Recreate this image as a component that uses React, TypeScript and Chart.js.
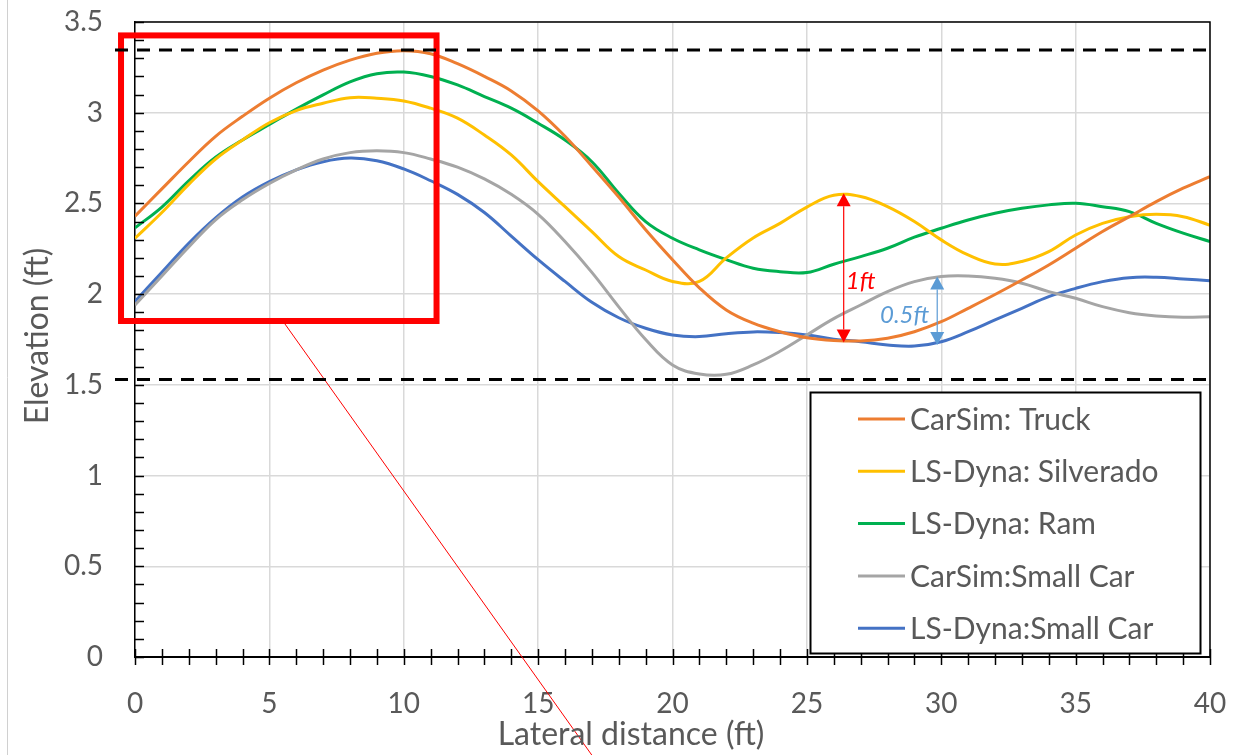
import React, { useEffect, useRef } from "react";
import { Chart, registerables } from "chart.js";

Chart.register(...registerables);

// ---- data ----
const lateralDistance = [
  0, 1, 2, 3, 4, 5, 6, 7, 8, 9, 10, 11, 12, 13, 14, 15, 16, 17, 18, 19, 20,
  21, 22, 23, 24, 25, 26, 27, 28, 29, 30, 31, 32, 33, 34, 35, 36, 37, 38, 39, 40,
];

const carsimTruck = [
  2.43, 2.58, 2.73, 2.87, 2.98, 3.08, 3.165, 3.235, 3.29, 3.328, 3.342, 3.325, 3.27, 3.2, 3.12, 3.01, 2.87, 2.705, 2.535, 2.355, 2.19,
  2.035, 1.913, 1.84, 1.793, 1.76, 1.745, 1.742, 1.757, 1.793, 1.848, 1.922, 1.998, 2.078, 2.161, 2.253, 2.345, 2.427, 2.51, 2.584, 2.648,
];
const lsdynaSilverado = [
  2.308, 2.45, 2.605, 2.745, 2.85, 2.945, 3.012, 3.052, 3.083, 3.08, 3.065, 3.025, 2.97, 2.877, 2.767, 2.62, 2.482, 2.345, 2.207, 2.133, 2.07,
  2.07, 2.2, 2.31, 2.39, 2.48, 2.545, 2.538, 2.482, 2.4, 2.299, 2.216, 2.166, 2.18, 2.234, 2.326, 2.39, 2.427, 2.44, 2.427, 2.38,
];
const lsdynaRam = [
  2.365, 2.48, 2.625, 2.755, 2.85, 2.935, 3.02, 3.098, 3.17, 3.215, 3.224, 3.2, 3.153, 3.089, 3.025, 2.942, 2.85, 2.73, 2.556, 2.4, 2.308,
  2.244, 2.19, 2.143, 2.124, 2.119, 2.165, 2.207, 2.253, 2.314, 2.363, 2.409, 2.446, 2.473, 2.492, 2.501, 2.482, 2.455, 2.39, 2.336, 2.29,
];
const carsimSmallCar = [
  1.94, 2.1, 2.26, 2.41, 2.52, 2.61, 2.685, 2.745, 2.78, 2.79, 2.78, 2.745, 2.7, 2.635, 2.55, 2.44, 2.29, 2.12, 1.93, 1.75, 1.61,
  1.56, 1.558, 1.61, 1.685, 1.775, 1.865, 1.94, 2.014, 2.069, 2.097, 2.1, 2.087, 2.06, 2.014, 1.977, 1.931, 1.898, 1.88, 1.873, 1.876,
];
const lsdynaSmallCar = [
  1.96, 2.12, 2.28, 2.42, 2.535, 2.62, 2.685, 2.73, 2.75, 2.735, 2.69, 2.625, 2.55, 2.45, 2.32, 2.19, 2.07, 1.955, 1.87, 1.812, 1.775,
  1.766, 1.782, 1.792, 1.788, 1.775, 1.752, 1.738, 1.72, 1.714, 1.738, 1.793, 1.858, 1.922, 1.986, 2.032, 2.069, 2.091, 2.093, 2.084, 2.074,
];

const seriesLabels = [
  "CarSim: Truck",
  "LS-Dyna: Silverado",
  "LS-Dyna: Ram",
  "CarSim:Small Car",
  "LS-Dyna:Small Car",
];
const seriesValues = [carsimTruck, lsdynaSilverado, lsdynaRam, carsimSmallCar, lsdynaSmallCar];
const seriesColors = ["#ED7D31", "#FFC000", "#00B050", "#A5A5A5", "#4472C4"];

const referenceLevels = [3.345, 1.53];
const xTickLabels = ["0", "5", "10", "15", "20", "25", "30", "35", "40"];
const yTickLabels = ["0", "0.5", "1", "1.5", "2", "2.5", "3", "3.5"];

// annotations (data units)
const gapArrows = [
  { x: 26.37, from: 1.733, to: 2.556, label: "1ft", color: "#FF0000", labelX: 26.45, labelY: 2.07, align: "left" },
  { x: 29.85, from: 1.72, to: 2.097, label: "0.5ft", color: "#5B9BD5", labelX: 29.55, labelY: 1.885, align: "right" },
];
const zoomBox = { x0: -0.52, x1: 11.22, y0: 1.852, y1: 3.426 };
const zoomLeader = { x: 5.5, y: 1.852, xAtZero: 14.4 };

const FONT = "Lato, 'Open Sans', sans-serif";
const TEXT = "#595959";

function drawArrow(ctx: CanvasRenderingContext2D, px: number, yTop: number, yBot: number, color: string) {
  const hw = 7;
  const hh = 13;
  ctx.save();
  ctx.strokeStyle = color;
  ctx.fillStyle = color;
  ctx.lineWidth = 1.2;
  ctx.beginPath();
  ctx.moveTo(px, yTop + hh);
  ctx.lineTo(px, yBot - hh);
  ctx.stroke();
  ctx.beginPath();
  ctx.moveTo(px, yTop);
  ctx.lineTo(px - hw, yTop + hh);
  ctx.lineTo(px + hw, yTop + hh);
  ctx.closePath();
  ctx.fill();
  ctx.beginPath();
  ctx.moveTo(px, yBot);
  ctx.lineTo(px - hw, yBot - hh);
  ctx.lineTo(px + hw, yBot - hh);
  ctx.closePath();
  ctx.fill();
  ctx.restore();
}

const decorations = {
  id: "decorations",
  beforeDraw(chart: any) {
    const { ctx } = chart;
    ctx.save();
    ctx.fillStyle = "#ffffff";
    ctx.fillRect(0, 0, chart.width, chart.height);
    ctx.strokeStyle = "#d0d0d0";
    ctx.lineWidth = 1;
    ctx.beginPath();
    ctx.moveTo(7.5, 0);
    ctx.lineTo(7.5, chart.height);
    ctx.stroke();
    ctx.restore();
  },
  afterDatasetsDraw(chart: any) {
    const { ctx, chartArea: a } = chart;
    const x = chart.scales.x;
    const y = chart.scales.y;
    ctx.save();

    // frame (top, right)
    ctx.strokeStyle = "#000";
    ctx.lineWidth = 1.5;
    ctx.beginPath();
    ctx.moveTo(a.left, a.top);
    ctx.lineTo(a.right, a.top);
    ctx.lineTo(a.right, a.bottom);
    ctx.stroke();

    // minor ticks
    ctx.lineWidth = 1.5;
    for (let i = 0; i <= 35; i++) {
      const py = Math.round(y.getPixelForValue(i / 10)) + 0.5;
      ctx.beginPath();
      ctx.moveTo(a.left, py);
      ctx.lineTo(a.left + 9, py);
      ctx.stroke();
    }
    for (let i = 0; i <= 40; i++) {
      const px = Math.round(x.getPixelForValue(i)) + 0.5;
      ctx.beginPath();
      ctx.moveTo(px, a.bottom - 8);
      ctx.lineTo(px, a.bottom + 8);
      ctx.stroke();
    }

    // gap arrows
    for (const g of gapArrows) {
      const px = x.getPixelForValue(g.x);
      drawArrow(ctx, px, y.getPixelForValue(g.to), y.getPixelForValue(g.from), g.color);
      ctx.fillStyle = g.color;
      ctx.font = `italic 24px ${FONT}`;
      ctx.textAlign = g.align as CanvasTextAlign;
      ctx.textBaseline = "middle";
      ctx.fillText(g.label, x.getPixelForValue(g.labelX), y.getPixelForValue(g.labelY));
    }

    // zoom box + leader line
    ctx.strokeStyle = "#FF0000";
    ctx.lineWidth = 6;
    const bx0 = x.getPixelForValue(zoomBox.x0);
    const bx1 = x.getPixelForValue(zoomBox.x1);
    const by0 = y.getPixelForValue(zoomBox.y1);
    const by1 = y.getPixelForValue(zoomBox.y0);
    ctx.strokeRect(bx0, by0, bx1 - bx0, by1 - by0);
    ctx.lineWidth = 1;
    const lx0 = x.getPixelForValue(zoomLeader.x);
    const ly0 = y.getPixelForValue(zoomLeader.y);
    const lx1 = x.getPixelForValue(zoomLeader.xAtZero);
    const ly1 = y.getPixelForValue(0);
    const slope = (lx1 - lx0) / (ly1 - ly0);
    ctx.beginPath();
    ctx.moveTo(lx0, ly0);
    ctx.lineTo(lx0 + slope * (chart.height - ly0), chart.height);
    ctx.stroke();

    // dashed reference lines
    ctx.strokeStyle = "#000";
    ctx.lineWidth = 3;
    ctx.setLineDash([13, 9]);
    for (const v of referenceLevels) {
      const py = y.getPixelForValue(v);
      ctx.beginPath();
      ctx.moveTo(a.left - 20, py);
      ctx.lineTo(a.right, py);
      ctx.stroke();
    }
    ctx.setLineDash([]);

    // legend
    const L = 810.5, T = 392.5, R = 1200.5, B = 653.5;
    ctx.fillStyle = "#fff";
    ctx.fillRect(L, T, R - L, B - T);
    ctx.strokeStyle = "#000";
    ctx.lineWidth = 2;
    ctx.strokeRect(L, T, R - L, B - T);
    ctx.font = `30px ${FONT}`;
    ctx.textAlign = "left";
    ctx.textBaseline = "middle";
    chart.data.datasets.forEach((ds: any, i: number) => {
      const cy = 419 + i * 52.3;
      ctx.strokeStyle = ds.borderColor;
      ctx.lineWidth = 3;
      ctx.beginPath();
      ctx.moveTo(858, cy);
      ctx.lineTo(905, cy);
      ctx.stroke();
      ctx.fillStyle = TEXT;
      ctx.fillText(ds.label, 910, cy + 1);
    });

    ctx.restore();
  },
  afterDraw(chart: any) {
    const { ctx } = chart;
    ctx.save();
    ctx.fillStyle = TEXT;
    ctx.font = `32px ${FONT}`;
    ctx.textAlign = "center";
    ctx.textBaseline = "middle";
    ctx.fillText("Lateral distance (ft)", 631, 735);
    ctx.translate(38, 336);
    ctx.rotate(-Math.PI / 2);
    ctx.fillText("Elevation (ft)", 0, 0);
    ctx.restore();
  },
};

export default function App() {
  const ref = useRef<HTMLCanvasElement>(null);
  useEffect(() => {
    const chart = new Chart(ref.current!, {
      type: "line",
      data: {
        datasets: seriesLabels.map((label, i) => ({
          label,
          data: lateralDistance.map((xv, j) => ({ x: xv, y: seriesValues[i][j] })),
          borderColor: seriesColors[i],
          backgroundColor: seriesColors[i],
          borderWidth: 3,
          pointRadius: 0,
          tension: 0.4,
          fill: false,
        })),
      },
      options: {
        responsive: false,
        devicePixelRatio: 1,
        animation: false,
        layout: { padding: { left: 0, right: 35, top: 22, bottom: 0 } },
        plugins: { legend: { display: false }, tooltip: { enabled: false } },
        scales: {
          x: {
            type: "linear",
            min: 0,
            max: 40,
            afterFit: (s: any) => {
              s.height = 98;
              s.paddingLeft = 0;
              s.paddingRight = 0;
            },
            ticks: {
              stepSize: 5,
              color: TEXT,
              font: { family: FONT, size: 28 },
              padding: 30,
              callback: (v: any) => {
                const idx = Number(v) / 5;
                return Number.isInteger(idx) ? xTickLabels[idx] : "";
              },
            },
            grid: { color: "#d9d9d9", lineWidth: 1.5, drawTicks: false },
            border: { color: "#000", width: 2 },
          },
          y: {
            min: 0,
            max: 3.5,
            afterFit: (s: any) => {
              s.width = 135;
              s.paddingTop = 0;
              s.paddingBottom = 0;
            },
            ticks: {
              stepSize: 0.5,
              color: TEXT,
              font: { family: FONT, size: 28 },
              padding: 32,
              callback: (v: any) => {
                const idx = Math.round(Number(v) / 0.5);
                return yTickLabels[idx];
              },
            },
            grid: { color: "#d9d9d9", lineWidth: 1.5, drawTicks: false },
            border: { color: "#000", width: 1.5 },
          },
        },
      },
      plugins: [decorations],
    } as any);
    return () => chart.destroy();
  }, []);
  return (
    <div style={{ position: "fixed", left: 0, top: 0, width: 1245, height: 755, background: "#fff" }}>
      <canvas ref={ref} width={1245} height={755} style={{ display: "block" }} />
    </div>
  );
}
